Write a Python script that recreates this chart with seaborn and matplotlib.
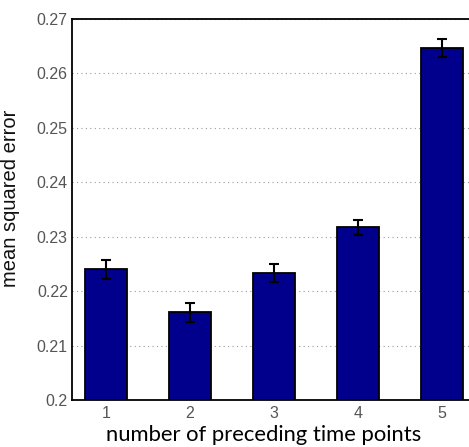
import matplotlib
matplotlib.use("Agg")
import matplotlib.pyplot as plt
import seaborn as sns
import pandas as pd

# number of preceding time points and the resulting error
n_points = ["1", "2", "3", "4", "5"]
mse = [0.2240, 0.2161, 0.2233, 0.2317, 0.2647]
mse_err = [0.0018, 0.0017, 0.0016, 0.0014, 0.0016]

df = pd.DataFrame({"n": n_points, "mse": mse})

sns.set_theme(style="white")
plt.rcParams["font.family"] = ["Liberation Sans", "DejaVu Sans"]

W, H = 469, 447
fig = plt.figure(figsize=(W / 100, H / 100), dpi=100)
ax = fig.add_axes([72 / W, 47 / H, 412 / W, 381 / H])

sns.barplot(data=df, x="n", y="mse", color="#00008C", saturation=1,
            width=0.5, edgecolor="black", linewidth=1.3, errorbar=None,
            ax=ax, zorder=2)
ax.errorbar(range(len(mse)), mse, yerr=mse_err, fmt="none", ecolor="black",
            elinewidth=1.5, capsize=3.5, capthick=1.5, zorder=3)

ax.set_ylim(0.2, 0.27)
ax.set_xlim(-0.405, 4.5)
ax.set_yticks([0.2, 0.21, 0.22, 0.23, 0.24, 0.25, 0.26, 0.27])
ax.set_yticklabels(["0.2", "0.21", "0.22", "0.23", "0.24", "0.25", "0.26", "0.27"])
ax.yaxis.grid(True, linestyle=(0, (1, 3)), color="#999999", linewidth=0.8, zorder=0)
ax.set_axisbelow(True)

for s in ax.spines.values():
    s.set_color("black")
    s.set_linewidth(1.3)

ax.tick_params(axis="both", which="major", labelsize=11.5, labelcolor="#555555",
               direction="in", length=2, color="#888888", pad=3)
ax.tick_params(axis="x", length=0, pad=4)

ax.set_ylabel("mean squared error", fontsize=14.5, color="#111111")
ax.yaxis.set_label_coords(-0.125, 0.529)
ax.set_xlabel("number of preceding time points", fontsize=15.8,
              family=["Lato", "DejaVu Sans"], color="black")
ax.xaxis.set_label_coords(0.465, -0.066)
ax.xaxis.label.set_va("top")

fig.savefig("out.png", dpi=100)
